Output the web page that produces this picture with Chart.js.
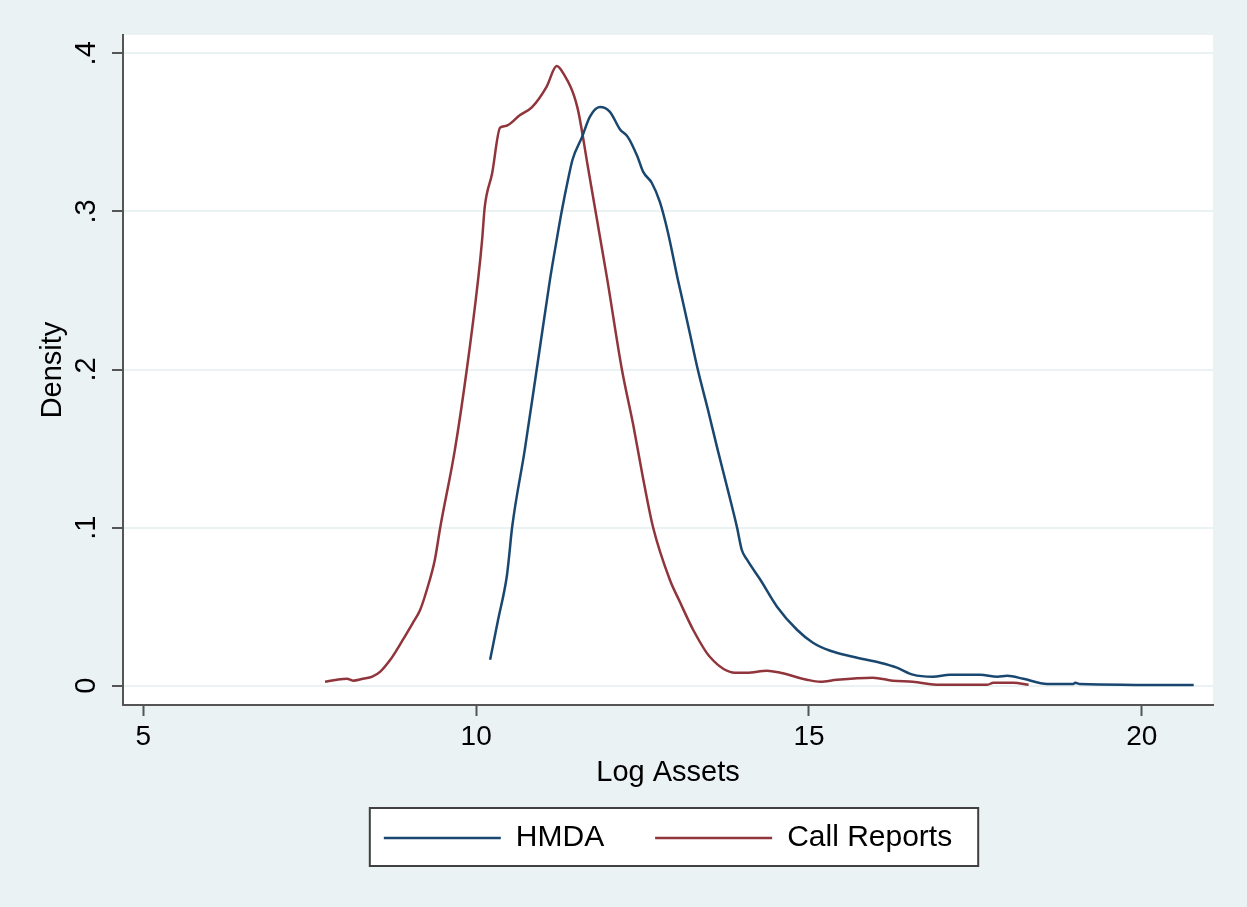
<!DOCTYPE html>
<html lang="en">
<head>
  <meta charset="utf-8">
  <title>Log Assets density</title>
  <script src="https://cdn.jsdelivr.net/npm/chart.js@4"></script>
  <style>
    html, body { margin: 0; padding: 0; background: #eaf2f3; }
    #wrap { width: 1247px; height: 907px; }
  </style>
</head>
<body>
  <div id="wrap"><canvas id="density" width="1247" height="907"></canvas></div>

  <script>
    // Series labels
    const seriesNames = ['HMDA', 'Call Reports'];

    // HMDA kernel density (log assets, density)
    const hmdaX = [10.21, 10.33, 10.46, 10.49, 10.54, 10.73, 10.91, 11.11, 11.21, 11.29, 11.38, 11.45, 11.59, 11.71,
      11.86, 12.01, 12.16, 12.28, 12.42, 12.51, 12.64, 12.76, 12.88, 13.03, 13.10, 13.20, 13.33, 13.48, 13.63, 13.78,
      13.92, 13.99, 14.07, 14.27, 14.52, 14.82, 15.06, 15.32, 15.66, 16.07, 16.32, 16.56, 16.86, 17.12, 17.57, 17.83,
      17.98, 18.22, 18.58, 18.97, 19.00, 19.07, 20.78];
    const hmdaY = [.0164, .0417, .0689, .0797, .0999, .149, .200, .257, .282, .301, .320, .333, .347, .360,
      .366, .363, .352, .347, .335, .325, .318, .306, .287, .257, .244, .225, .200, .175, .149, .124,
      .100, .086, .0797, .0670, .0500, .0354, .0272, .0221, .0183, .0145, .0114, .0070, .0057, .0070, .0070, .0057,
      .0063, .0044, .0011, .0011, .0019, .0011, .0004];

    // Call Reports kernel density
    const callX = [7.73, 7.91, 8.06, 8.15, 8.30, 8.44, 8.56, 8.71, 8.81, 8.90, 9.05, 9.16, 9.26, 9.38, 9.46,
      9.68, 9.86, 10.03, 10.09, 10.13, 10.24, 10.36, 10.44, 10.66, 10.84, 11.06, 11.21, 11.30, 11.52, 11.68,
      11.86, 11.97, 12.19, 12.36, 12.50, 12.66, 12.91, 13.06, 13.26, 13.51, 13.89, 14.07, 14.37, 14.57, 14.97,
      15.17, 15.42, 15.96, 16.26, 16.56, 16.97, 17.68, 17.77, 18.07, 18.30];
    const callY = [.0025, .0038, .0044, .0032, .0044, .0057, .0089, .0164, .0228, .0291, .0398, .0481, .0607, .0797, .0999,
      .149, .200, .257, .282, .303, .324, .353, .354, .361, .366, .379, .392, .388, .366, .328,
      .284, .257, .200, .165, .133, .0999, .0670, .0531, .0354, .0183, .0082, .0082, .0095, .0082, .0038,
      .0025, .0038, .0051, .0032, .0025, .0006, .0006, .0019, .0019, .0006];

    // Axis ticks
    const xTicks = [5, 10, 15, 20];
    const xTickLabels = ['5', '10', '15', '20'];
    const yTicks = [0, .1, .2, .3, .4];
    const yTickLabels = ['0', '.1', '.2', '.3', '.4'];

    const toPoints = (xs, ys) => xs.map((x, i) => ({ x: x, y: ys[i] }));

    Chart.defaults.font.family = "'Liberation Sans', Arial, Helvetica, sans-serif";
    Chart.defaults.color = '#000';

    // Stata-like backgrounds and legend frame
    const stataFrame = {
      id: 'stataFrame',
      beforeDraw(chart) {
        const { ctx, chartArea: a } = chart;
        ctx.save();
        ctx.fillStyle = '#eaf2f3';
        ctx.fillRect(0, 0, chart.width, chart.height);
        ctx.fillStyle = '#ffffff';
        ctx.fillRect(a.left, a.top, a.right - a.left, a.bottom - a.top);
        const box = legendBox(chart);
        if (box) ctx.fillRect(box.x, box.y, box.w, box.h);
        ctx.restore();
      },
      afterDraw(chart) {
        const box = legendBox(chart);
        if (!box) return;
        const ctx = chart.ctx;
        ctx.save();
        ctx.strokeStyle = '#404040';
        ctx.lineWidth = 2;
        ctx.strokeRect(box.x, box.y, box.w, box.h);
        ctx.restore();
      }
    };

    function legendBox(chart) {
      const hb = chart.legend && chart.legend.legendHitBoxes;
      if (!hb || !hb.length) return null;
      const first = hb[0], last = hb[hb.length - 1];
      const mid = first.top + first.height / 2;
      const x0 = first.left - 14, x1 = last.left + last.width + 26;
      return { x: x0, y: mid - 30, w: x1 - x0, h: 58 };
    }

    new Chart(document.getElementById('density'), {
      type: 'line',
      data: {
        datasets: [
          {
            label: seriesNames[0],
            data: toPoints(hmdaX, hmdaY),
            borderColor: '#1a476f',
            backgroundColor: '#1a476f',
            borderWidth: 2.5,
            pointRadius: 0,
            fill: false,
            cubicInterpolationMode: 'monotone'
          },
          {
            label: seriesNames[1],
            data: toPoints(callX, callY),
            borderColor: '#90353b',
            backgroundColor: '#90353b',
            borderWidth: 2.5,
            pointRadius: 0,
            fill: false,
            cubicInterpolationMode: 'monotone'
          }
        ]
      },
      options: {
        responsive: false,
        animation: false,
        devicePixelRatio: 1,
        layout: { padding: { top: 35, right: 34, bottom: 44, left: 0 } },
        scales: {
          x: {
            type: 'linear',
            min: 4.695,
            max: 21.07,
            afterBuildTicks: s => { s.ticks = xTicks.map(v => ({ value: v })); },
            afterFit: s => { s.height = 67; },
            ticks: {
              font: { size: 28 },
              padding: 4,
              maxRotation: 0,
              callback: (v, i) => xTickLabels[i]
            },
            grid: {
              drawOnChartArea: false,
              drawTicks: true,
              tickLength: 11,
              tickColor: '#555',
              tickWidth: 2
            },
            border: { display: true, color: '#555', width: 2 },
            title: {
              display: true,
              text: 'Log Assets',
              font: { size: 29 },
              padding: { top: 0, bottom: -18.4 }
            }
          },
          y: {
            min: -0.0122,
            max: 0.4116,
            afterBuildTicks: s => { s.ticks = yTicks.map(v => ({ value: v })); },
            afterFit: s => { s.width = 123; },
            ticks: {
              font: { size: 29 },
              minRotation: 90,
              maxRotation: 90,
              crossAlign: 'center',
              padding: 13,
              callback: (v, i) => yTickLabels[i]
            },
            grid: {
              color: '#eaf2f3',
              lineWidth: 2,
              drawTicks: true,
              tickLength: 11,
              tickColor: '#555',
              tickWidth: 2
            },
            border: { display: true, color: '#555', width: 2 },
            title: {
              display: true,
              text: 'Density',
              font: { size: 29 },
              padding: { top: 35.6, bottom: 0 }
            }
          }
        },
        plugins: {
          legend: {
            position: 'bottom',
            fullSize: false,
            labels: {
              font: { size: 30 },
              color: '#000',
              usePointStyle: true,
              pointStyle: 'line',
              pointStyleWidth: 117,
              padding: 51
            }
          },
          tooltip: { enabled: false }
        }
      },
      plugins: [stataFrame]
    });
  </script>
</body>
</html>
